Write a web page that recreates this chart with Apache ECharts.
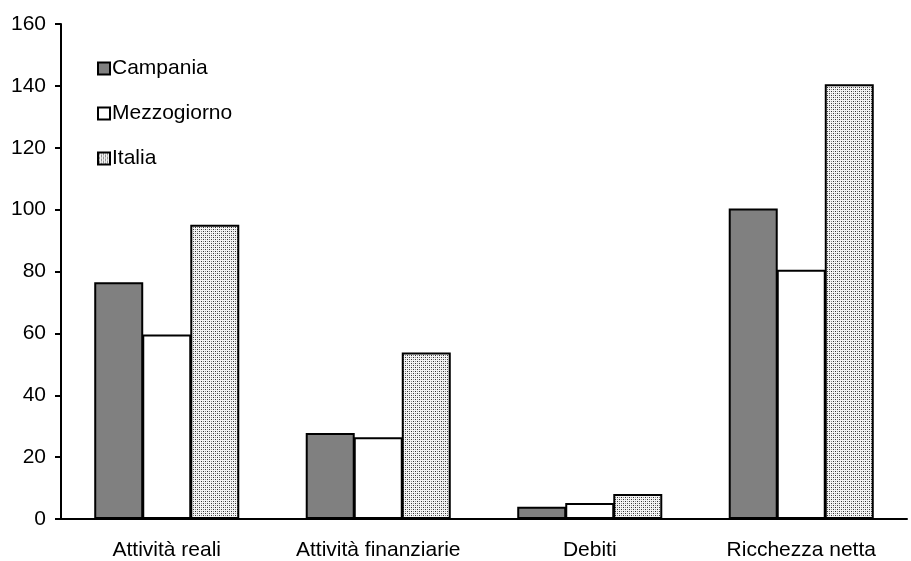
<!DOCTYPE html>
<html>
<head>
<meta charset="utf-8">
<script src="https://cdn.jsdelivr.net/npm/echarts@6/dist/echarts.min.js"></script>
<style>
  html, body { margin: 0; padding: 0; background: #fff; }
  #chart { width: 911px; height: 561px; }
</style>
</head>
<body>
<div id="chart"></div>
<script>
// Categories and series values (index numbers)
const categories = ['Attività reali', 'Attività finanziarie', 'Debiti', 'Ricchezza netta'];
const campania = [76.5, 27.8, 4.0, 100.4];
const mezzogiorno = [59.6, 26.4, 5.2, 80.6];
const italia = [95.1, 53.8, 8.1, 140.5];
const yTicks = [0, 20, 40, 60, 80, 100, 120, 140, 160];

// Fine dotted fill used for the Italia bars
function dotPattern() {
  const c = document.createElement('canvas');
  c.width = 4; c.height = 4;
  const g = c.getContext('2d');
  g.fillStyle = '#f4f4f4';
  g.fillRect(0, 0, 4, 4);
  g.fillStyle = '#333333';
  g.fillRect(1, 1, 1, 1);
  g.fillRect(3, 3, 1, 1);
  g.fillStyle = '#8c8c8c';
  g.fillRect(1, 3, 1, 1);
  g.fillRect(3, 1, 1, 1);
  return c;
}

const font = '"Liberation Sans", Arial, sans-serif';
const chart = echarts.init(document.getElementById('chart'), null, { renderer: 'canvas' });

const barStyle = (fill) => ({ color: fill, borderColor: '#000', borderWidth: 2 });
const BAR_W = 49;

chart.setOption({
  animation: false,
  backgroundColor: '#fff',
  grid: { left: 61, right: 4, top: 24, bottom: 42, containLabel: false },
  legend: {
    orient: 'vertical',
    left: 97,
    top: 58,
    icon: 'rect',
    itemWidth: 12,
    itemHeight: 12,
    itemGap: 24,
    padding: 0,
    itemStyle: { borderWidth: 2, borderColor: '#000' },
    textStyle: { fontFamily: font, fontSize: 21, color: '#000', padding: [0, 0, 0, -3], lineHeight: 21 },
    data: ['Campania', 'Mezzogiorno', 'Italia']
  },
  xAxis: {
    type: 'category',
    data: categories,
    axisLine: { lineStyle: { color: '#000', width: 2 } },
    axisTick: { show: false },
    axisLabel: { fontFamily: font, fontSize: 21, color: '#000', margin: 21, interval: 0 }
  },
  yAxis: {
    type: 'value',
    min: yTicks[0],
    max: yTicks[yTicks.length - 1],
    interval: 20,
    axisLine: { show: true, lineStyle: { color: '#000', width: 2 } },
    axisTick: { show: true, length: 6, lineStyle: { color: '#000', width: 2 } },
    axisLabel: { fontFamily: font, fontSize: 21, color: '#000', margin: 15 },
    splitLine: { show: false }
  },
  series: [
    { name: 'Campania', type: 'bar', data: campania, barWidth: BAR_W, barGap: '-2%', itemStyle: barStyle('#808080') },
    { name: 'Mezzogiorno', type: 'bar', data: mezzogiorno, barWidth: BAR_W, barGap: '-2%', itemStyle: barStyle('#ffffff') },
    { name: 'Italia', type: 'bar', data: italia, barWidth: BAR_W, barGap: '-2%', itemStyle: barStyle({ image: dotPattern(), repeat: 'repeat' }) }
  ]
});
</script>
</body>
</html>
